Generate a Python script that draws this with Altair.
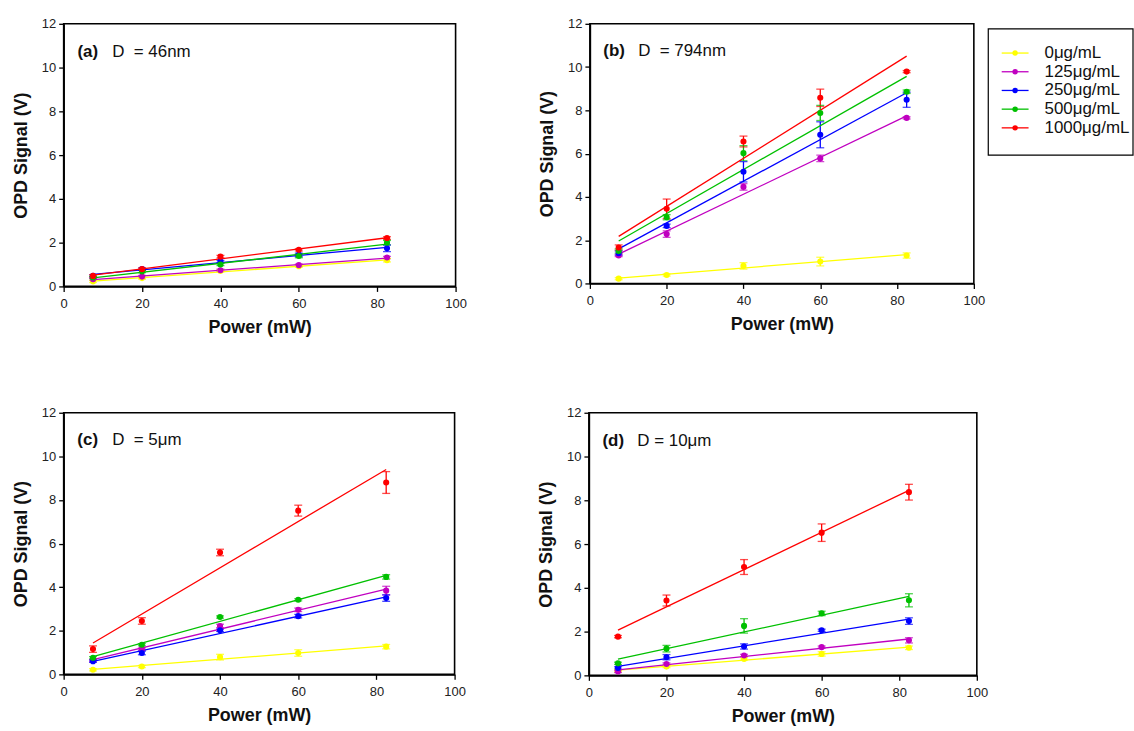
import altair as alt
import pandas as pd

# ---- data ----
power = [7.5, 20, 40, 60, 82.5]
concs = ["0\u03bcg/mL", "125\u03bcg/mL", "250\u03bcg/mL", "500\u03bcg/mL", "1000\u03bcg/mL"]
colors = ["#FFFF00", "#C000C0", "#0000FF", "#00C000", "#FF0000"]

panel_ids = ["a", "b", "c", "d"]
panel_bold = ["(a)", "(b)", "(c)", "(d)"]
panel_text = ["D\u00a0\u00a0= 46nm", "D\u00a0\u00a0= 794nm", "D\u00a0\u00a0= 5\u03bcm", "D = 10\u03bcm"]

# signal (V) per panel, per concentration, at each power
sig_a_0 = [0.23, 0.38, 0.71, 0.92, 1.2]
sig_a_125 = [0.33, 0.45, 0.74, 0.97, 1.32]
sig_a_250 = [0.48, 0.79, 1.14, 1.44, 1.74]
sig_a_500 = [0.41, 0.68, 1.0, 1.39, 2.0]
sig_a_1000 = [0.48, 0.79, 1.36, 1.67, 2.21]
err_a_0 = [0.05, 0.05, 0.05, 0.05, 0.08]
err_a_125 = [0.05, 0.05, 0.05, 0.05, 0.05]
err_a_250 = [0.05, 0.05, 0.05, 0.08, 0.15]
err_a_500 = [0.05, 0.05, 0.05, 0.08, 0.1]
err_a_1000 = [0.05, 0.05, 0.06, 0.05, 0.06]

sig_b_0 = [0.22, 0.39, 0.81, 1.01, 1.29]
sig_b_125 = [1.29, 2.28, 4.46, 5.78, 7.65]
sig_b_250 = [1.4, 2.66, 5.16, 6.87, 8.49]
sig_b_500 = [1.5, 3.06, 6.02, 7.88, 8.86]
sig_b_1000 = [1.66, 3.45, 6.56, 8.58, 9.79]
err_b_0 = [0.05, 0.05, 0.15, 0.2, 0.12]
err_b_125 = [0.05, 0.15, 0.15, 0.15, 0.05]
err_b_250 = [0.1, 0.08, 0.47, 0.6, 0.35]
err_b_500 = [0.1, 0.12, 0.35, 0.35, 0.08]
err_b_1000 = [0.12, 0.45, 0.25, 0.4, 0.05]

sig_c_0 = [0.21, 0.36, 0.79, 0.98, 1.27]
sig_c_125 = [0.63, 1.16, 2.22, 2.96, 3.84]
sig_c_250 = [0.6, 0.98, 2.02, 2.67, 3.5]
sig_c_500 = [0.76, 1.36, 2.63, 3.42, 4.47]
sig_c_1000 = [1.16, 2.45, 5.59, 7.51, 8.8]
err_c_0 = [0.05, 0.05, 0.13, 0.15, 0.1]
err_c_125 = [0.05, 0.05, 0.08, 0.08, 0.2]
err_c_250 = [0.05, 0.08, 0.05, 0.08, 0.15]
err_c_500 = [0.05, 0.05, 0.05, 0.05, 0.1]
err_c_1000 = [0.15, 0.15, 0.15, 0.25, 0.5]

sig_d_0 = [0.22, 0.4, 0.75, 0.98, 1.26]
sig_d_125 = [0.18, 0.52, 0.91, 1.29, 1.6]
sig_d_250 = [0.34, 0.83, 1.32, 2.06, 2.48]
sig_d_500 = [0.55, 1.22, 2.26, 2.83, 3.43]
sig_d_1000 = [1.77, 3.42, 4.95, 6.52, 8.37]
err_d_0 = [0.05, 0.05, 0.05, 0.1, 0.08]
err_d_125 = [0.05, 0.05, 0.05, 0.05, 0.12]
err_d_250 = [0.05, 0.12, 0.12, 0.05, 0.15]
err_d_500 = [0.05, 0.15, 0.33, 0.1, 0.3]
err_d_1000 = [0.05, 0.25, 0.34, 0.4, 0.36]

signals = {
    "a": [sig_a_0, sig_a_125, sig_a_250, sig_a_500, sig_a_1000],
    "b": [sig_b_0, sig_b_125, sig_b_250, sig_b_500, sig_b_1000],
    "c": [sig_c_0, sig_c_125, sig_c_250, sig_c_500, sig_c_1000],
    "d": [sig_d_0, sig_d_125, sig_d_250, sig_d_500, sig_d_1000],
}
errors = {
    "a": [err_a_0, err_a_125, err_a_250, err_a_500, err_a_1000],
    "b": [err_b_0, err_b_125, err_b_250, err_b_500, err_b_1000],
    "c": [err_c_0, err_c_125, err_c_250, err_c_500, err_c_1000],
    "d": [err_d_0, err_d_125, err_d_250, err_d_500, err_d_1000],
}

FONT = "Liberation Sans"
color_scale = alt.Scale(domain=concs, range=colors)


def panel_df(pid):
    rows = []
    for ci, c in enumerate(concs):
        for pi, p in enumerate(power):
            v = signals[pid][ci][pi]
            e = errors[pid][ci][pi]
            rows.append({"power": p, "signal": v, "lo": v - e, "hi": v + e,
                         "conc": c, "order": ci})
    return pd.DataFrame(rows)


def make_panel(idx, w, h):
    pid = panel_ids[idx]
    df = panel_df(pid)
    xs = alt.Scale(domain=[0, 100], nice=False)
    ys = alt.Scale(domain=[0, 12], nice=False)
    xax = alt.Axis(values=[0, 20, 40, 60, 80, 100], title="Power (mW)", grid=False,
                   tickSize=5, labelPadding=6, titlePadding=8, labelFlush=False)
    yax = alt.Axis(values=[0, 2, 4, 6, 8, 10, 12], title="OPD Signal (V)", grid=False,
                   tickSize=5, labelPadding=3, titlePadding=11, labelFlush=False)
    base = alt.Chart(df)
    col = alt.Color("conc:N", scale=color_scale, legend=None)
    bars = base.mark_rule(strokeWidth=1.3).encode(
        x=alt.X("power:Q", scale=xs, axis=xax),
        y=alt.Y("lo:Q", scale=ys, axis=yax),
        y2="hi:Q",
        color=col,
    )
    cap_lo = base.mark_tick(orient="horizontal", size=8, thickness=1.3).encode(
        x=alt.X("power:Q", scale=xs), y=alt.Y("lo:Q", scale=ys), color=col)
    cap_hi = base.mark_tick(orient="horizontal", size=8, thickness=1.3).encode(
        x=alt.X("power:Q", scale=xs), y=alt.Y("hi:Q", scale=ys), color=col)
    lines = base.transform_regression(
        "power", "signal", groupby=["conc"], extent=[7.5, 82.5]
    ).mark_line(strokeWidth=1.3).encode(
        x=alt.X("power:Q", scale=xs),
        y=alt.Y("signal:Q", scale=ys),
        color=col,
    )
    pts = base.mark_circle(size=38, opacity=1).encode(
        x=alt.X("power:Q", scale=xs),
        y=alt.Y("signal:Q", scale=ys),
        color=col,
        order="order:Q",
    )
    lab_df = pd.DataFrame({"x": [3.5], "y": [10.5], "b": [panel_bold[idx]], "t": [panel_text[idx]]})
    lab1 = alt.Chart(lab_df).mark_text(font=FONT, fontSize=17, fontWeight="bold",
                                       align="left", baseline="alphabetic", color="#111").encode(
        x=alt.X("x:Q", scale=xs), y=alt.Y("y:Q", scale=ys), text="b:N")
    lab2 = alt.Chart(lab_df).mark_text(font=FONT, fontSize=17, dx=35,
                                       align="left", baseline="alphabetic", color="#111").encode(
        x=alt.X("x:Q", scale=xs), y=alt.Y("y:Q", scale=ys), text="t:N")
    return alt.layer(bars, cap_lo, cap_hi, lines, pts, lab1, lab2).properties(width=w, height=h)


# legend drawn as a small chart (its own frame drawn as an outline box)
leg_df = pd.DataFrame({"conc": concs, "order": list(range(5))})
ly = alt.Scale(domain=concs, range=[20, 114])
box = alt.Chart(pd.DataFrame({"k": [0]})).mark_rect(
    filled=False, stroke="black", strokeWidth=1.2
).encode(x=alt.value(0.5), x2=alt.value(146), y=alt.value(5), y2=alt.value(132))
leg_line = alt.Chart(leg_df).mark_rule(strokeWidth=1.3).encode(
    x=alt.value(14), x2=alt.value(41),
    y=alt.Y("conc:N", scale=ly, axis=None),
    color=alt.Color("conc:N", scale=color_scale, legend=None),
)
leg_pt = alt.Chart(leg_df).mark_circle(size=30, opacity=1).encode(
    x=alt.value(27.5),
    y=alt.Y("conc:N", scale=ly, axis=None),
    color=alt.Color("conc:N", scale=color_scale, legend=None),
)
leg_txt = alt.Chart(leg_df).mark_text(font=FONT, fontSize=17, align="left",
                                      baseline="middle", color="#111").encode(
    x=alt.value(57),
    y=alt.Y("conc:N", scale=ly, axis=None),
    text="conc:N",
)
legend = alt.layer(box, leg_line, leg_pt, leg_txt).properties(
    width=144, height=133, view=alt.ViewConfig(stroke=None),
)

pa = make_panel(0, 394, 264)
pb = make_panel(1, 386, 261)
pc = make_panel(2, 393, 263)
pd_ = make_panel(3, 390, 264)

top = alt.hconcat(pa, alt.hconcat(pb, legend, spacing=1), spacing=70)
bottom = alt.hconcat(pc, pd_, spacing=70)

chart = alt.vconcat(top, bottom, spacing=69).properties(
    padding={"left": 11, "top": 15, "right": 0, "bottom": 3},
    background="white",
).configure_view(
    stroke="black", strokeWidth=1.6
).configure_axis(
    labelFont=FONT, titleFont=FONT, labelFontSize=13, titleFontSize=18,
    titleFontWeight="bold", labelColor="#222", titleColor="#111",
    domainColor="black", tickColor="black", domainWidth=1.6, tickWidth=1.3,
).configure_title(font=FONT)

chart.save("out.html", embed_options={"renderer": "svg", "actions": False})
